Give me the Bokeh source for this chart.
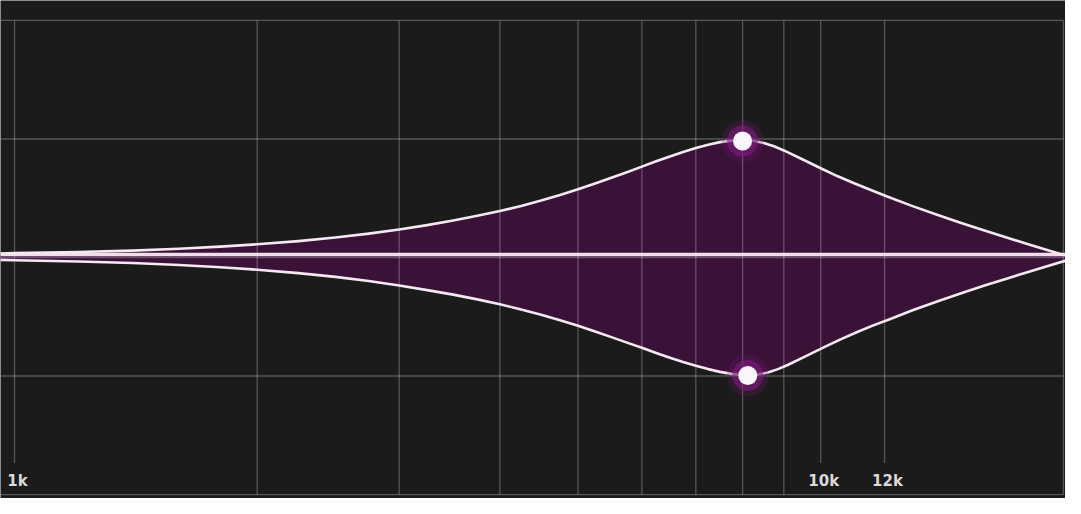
from bokeh.plotting import figure
from bokeh.models import Range1d
from bokeh.core.properties import value
from bokeh.embed import file_html
from bokeh.resources import INLINE

# ---- data (frequency in Hz, gain in dB) ----
upper_freq = [960, 1000, 1200, 1400, 1600, 1800, 2000, 2250, 2500, 2750, 3000, 3250, 3500,
              3750, 4000, 4250, 4500, 4750, 5000, 5250, 5500, 5750, 6000, 6250, 6500, 6750,
              7000, 7250, 7500, 7750, 8000, 8250, 8500, 8750, 9000, 9500, 10000, 10500,
              11000, 11500, 12000, 13000, 14000, 15000, 16000, 17000, 18000, 19000, 20100]
upper_gain = [0.20, 0.22, 0.275, 0.35, 0.44, 0.55, 0.67, 0.83, 1.01, 1.21, 1.42, 1.64, 1.87,
              2.11, 2.35, 2.61, 2.88, 3.16, 3.45, 3.75, 4.04, 4.32, 4.60, 4.87, 5.11, 5.34,
              5.54, 5.71, 5.84, 5.915, 5.95, 5.91, 5.80, 5.63, 5.42, 4.96, 4.52, 4.11,
              3.76, 3.44, 3.14, 2.60, 2.14, 1.72, 1.35, 1.01, 0.70, 0.41, 0.11]

lower_freq = [960, 1000, 1200, 1400, 1600, 1800, 2000, 2250, 2500, 2750, 3000, 3250, 3500,
              3750, 4000, 4250, 4500, 4750, 5000, 5250, 5500, 5750, 6000, 6250, 6500, 6750,
              7000, 7250, 7500, 7750, 8100, 8350, 8600, 8850, 9100, 9600, 10100, 10600,
              11100, 11600, 12200, 13000, 14000, 15000, 16000, 17000, 18000, 19000, 20100]
lower_gain = [-0.12, -0.14, -0.20, -0.28, -0.38, -0.49, -0.62, -0.79, -0.98, -1.19, -1.42,
              -1.65, -1.88, -2.12, -2.37, -2.63, -2.90, -3.18, -3.46, -3.75, -4.03, -4.31,
              -4.57, -4.83, -5.07, -5.29, -5.48, -5.65, -5.79, -5.89, -5.97, -5.93, -5.82,
              -5.65, -5.44, -4.98, -4.54, -4.13, -3.77, -3.45, -3.11, -2.67, -2.20, -1.78,
              -1.41, -1.07, -0.76, -0.47, -0.17]

flat_freq = [960, 20100]
flat_gain = [0.15, 0.15]

dot_freq = [8000, 8120]
dot_gain = [5.9, -5.97]

grid_freq = [1000, 2000, 3000, 4000, 5000, 6000, 7000, 8000, 9000, 10000, 12000, 20000]
grid_gain = [12, 6, 0, -6, -12]

label_freq = [1000, 10000, 12000]
label_text = ["1k", "10k", "12k"]

# ---- styling ----
BG = "#1b1b1b"
FILL = "#3a1238"
CURVE = "#f4e9f1"
W, H = 1065, 498
X0, X1 = 960.8, 20120
Y0, Y1 = -12.2, 13.01
LABEL_Y = -11.29
GAP_TOP = -10.4

p = figure(width=W, height=H, x_axis_type="log",
           x_range=Range1d(X0, X1), y_range=Range1d(Y0, Y1),
           output_backend="svg", toolbar_location=None,
           x_axis_location=None, y_axis_location=None,
           min_border=0, background_fill_color=BG, border_fill_color=BG,
           outline_line_color=None)
p.grid.visible = False

# filled band between the two curves
p.patch(upper_freq + lower_freq[::-1], upper_gain + lower_gain[::-1],
        fill_color=FILL, line_color=None)

# grid on top of the fill (semi-transparent white)
gx_top = [max(grid_gain)] * len(grid_freq)
gx_bot = [GAP_TOP if f in label_freq else min(grid_gain) for f in grid_freq]
p.segment(x0=grid_freq, y0=gx_top, x1=grid_freq, y1=gx_bot,
          line_color="white", line_alpha=0.26, line_width=1.3)
p.segment(x0=[X0] * len(grid_gain), y0=grid_gain, x1=[max(grid_freq)] * len(grid_gain),
          y1=grid_gain, line_color="white", line_alpha=0.26, line_width=1.3)

# flat centre line
p.line(flat_freq, flat_gain, line_color="#f2dee9", line_width=3.5)

# curves
p.line(upper_freq, upper_gain, line_color=CURVE, line_width=2.6, line_join="round")
p.line(lower_freq, lower_gain, line_color=CURVE, line_width=2.6, line_join="round")

# control points with glow
p.scatter(dot_freq, dot_gain, size=42, fill_color="#6e1670", fill_alpha=0.25, line_color=None)
p.scatter(dot_freq, dot_gain, size=31, fill_color="#7d1c7c", fill_alpha=0.6, line_color=None)
p.scatter(dot_freq, dot_gain, size=19, fill_color="#fbf6fb", line_color=None)

# frequency labels
p.text(x=label_freq, y=[LABEL_Y] * len(label_freq), text=label_text,
       text_align="center", text_baseline="middle", x_offset=3,
       text_font=value("DejaVu Sans"), text_font_style="bold",
       text_font_size="15px", text_color="#d9d9d9")

open("out.html", "w").write(file_html(p, INLINE))
